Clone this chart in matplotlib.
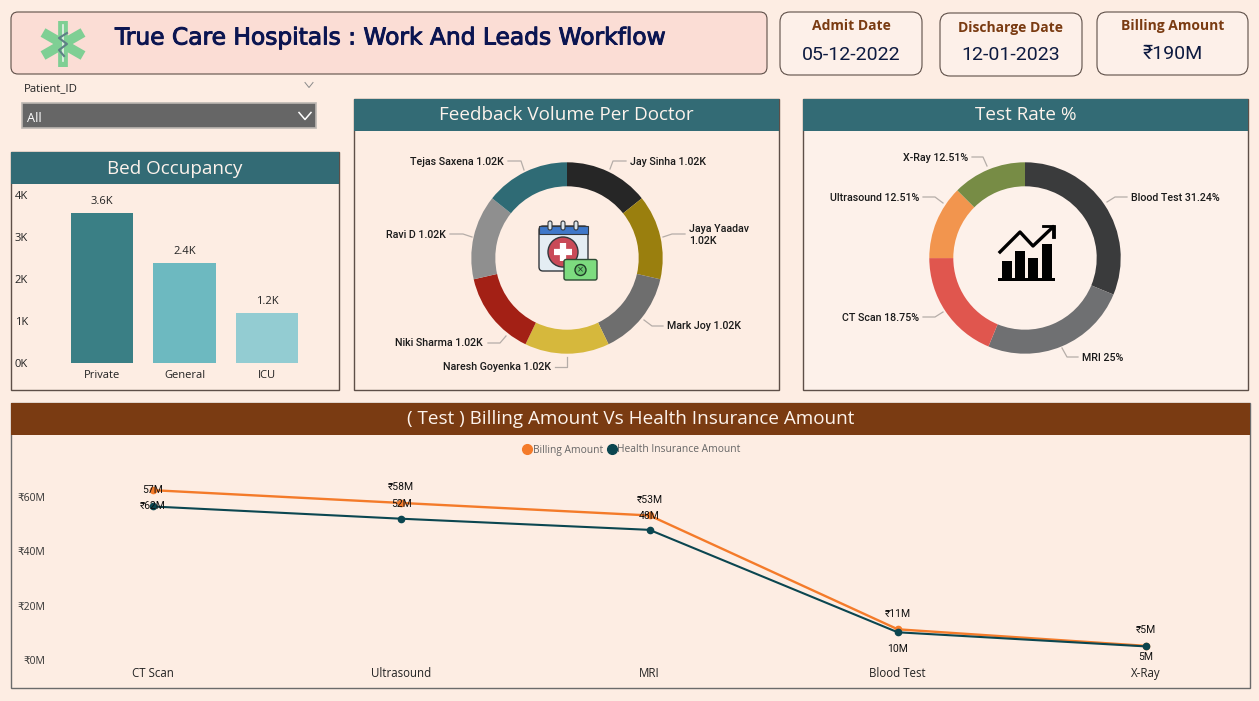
import matplotlib
matplotlib.use('Agg')
import matplotlib.pyplot as plt
import matplotlib.patheffects as pe
from matplotlib.lines import Line2D
from matplotlib.patches import Rectangle, FancyBboxPatch, Circle, Polygon

W, H = 1259, 701
BG = '#FDEDE3'
TEAL = '#336B75'
BROWN = '#7A3B12'
EDGE = '#5E4F48'
UI = ['Open Sans', 'DejaVu Sans']
DIN = ['Roboto', 'DejaVu Sans']

# data
bed_types = ['Private', 'General', 'ICU']
bed_counts = [3570, 2380, 1190]
bed_labels = ['3.6K', '2.4K', '1.2K']
bed_colors = ['#3A7F85', '#6DB9C0', '#93CCD2']
bed_ticks = [0, 1000, 2000, 3000, 4000]

doctors = ['Jay Sinha', 'Jaya Yaadav', 'Mark Joy', 'Naresh Goyenka', 'Niki Sharma', 'Ravi D', 'Tejas Saxena']
feedback = [1020, 1020, 1020, 1020, 1020, 1020, 1020]
doctor_colors = ['#262626', '#9A7F0E', '#6E6E6E', '#D6B83C', '#A32015', '#8F8F8F', '#2F6B75']

tests = ['Blood Test', 'MRI', 'CT Scan', 'Ultrasound', 'X-Ray']
test_rate = [31.24, 25, 18.75, 12.51, 12.51]
test_colors = ['#3A3B3C', '#6F7072', '#E0564E', '#F2954E', '#778C45']

line_tests = ['CT Scan', 'Ultrasound', 'MRI', 'Blood Test', 'X-Ray']
billing = [62.5, 57.8, 53.2, 11.3, 5.2]
insurance = [56.5, 52, 47.9, 10.2, 5]
billing_labels = ['₹62M', '₹58M', '₹53M', '₹11M', '₹5M']
insurance_labels = ['57M', '52M', '48M', '10M', '5M']
money_ticks = [0, 20, 40, 60]

fig = plt.figure(figsize=(W / 100, H / 100), dpi=100, facecolor=BG)

# whole page in pixel coordinates for the boxes, headers and icons
page = fig.add_axes([0, 0, 1, 1])
page.set_xlim(0, W)
page.set_ylim(H, 0)
page.axis('off')


def ax_px(x0, y0, x1, y1):
    ax = fig.add_axes([x0 / W, 1 - y1 / H, (x1 - x0) / W, (y1 - y0) / H])
    ax.patch.set_alpha(0)
    return ax


def round_box(x0, y0, x1, y1, face, r=7):
    page.add_patch(FancyBboxPatch((x0 + r, y0 + r), x1 - x0 - 2 * r, y1 - y0 - 2 * r,
                                  boxstyle='round,pad=%d,rounding_size=%d' % (r, r),
                                  fc=face, ec=EDGE, lw=0.8))


def panel(x0, y0, x1, y1, title, head=TEAL, face=BG, edge=EDGE, size=13.6):
    page.add_patch(Rectangle((x0, y0), x1 - x0, y1 - y0, fc=face, ec=edge, lw=1))
    page.add_patch(Rectangle((x0, y0), x1 - x0, 32, fc=head, ec='none'))
    page.text((x0 + x1) / 2, y0 + 16.5, title, color='#FDF3EC', fontsize=size, family=UI,
              ha='center', va='center')


def chevron(x, y, w, h, color, lw):
    page.plot([x - w, x, x + w], [y - h, y + h, y - h], color=color, lw=lw)


def leader(pts):
    page.plot([p[0] for p in pts], [p[1] for p in pts], color='#B5ADA8', lw=0.9)


# header
round_box(11, 12, 767, 74, '#FBDDD5')
title = page.text(115, 38, 'True Care Hospitals : Work And Leads Workflow', color='#0B1551',
                  fontsize=16.8, family='DejaVu Sans', va='center')
title.set_path_effects([pe.withStroke(linewidth=0.7, foreground='#0B1551')])

# star of life
for dx, dy in [(0, 23), (20, 11.5), (20, -11.5)]:
    page.plot([63 - dx, 63 + dx], [44 - dy, 44 + dy], color='#7FCF94', lw=7, solid_capstyle='butt')
page.plot([63, 63], [25, 61], color='#E8F3EA', lw=1.2)
page.add_patch(Circle((63, 26), 2, fc='none', ec='#E8F3EA', lw=1))
page.plot([67, 59, 67, 59, 64], [33, 38, 44, 50, 56], color='#5E7F86', lw=1.5)

# kpi cards
kpis = [(780, 12, 922, 75, 'Admit Date', '05-12-2022', 26, 55),
        (940, 13, 1082, 76, 'Discharge Date', '12-01-2023', 28, 55),
        (1097, 12, 1248, 75, 'Billing Amount', '₹190M', 26, 54)]
for x0, y0, x1, y1, name, val, ty, vy in kpis:
    round_box(x0, y0, x1, y1, '#FDF0E9', r=10)
    page.text((x0 + x1) / 2, ty, name, color=BROWN, fontsize=10, family=UI, weight='bold',
              ha='center', va='center')
    page.text((x0 + x1) / 2, vy, val, color='#0D1A40', fontsize=14, family=DIN,
              ha='center', va='center')

# slicer
page.text(24, 89, 'Patient_ID', color='#222222', fontsize=8.2, family=UI, va='center')
chevron(309, 85, 4, 2.5, '#8A8A8A', 0.7)
page.add_patch(Rectangle((22, 103), 294, 25, fc='#666666', ec='#BDB7B2', lw=1.2))
page.text(27, 118, 'All', color='white', fontsize=9.2, family=UI, va='center')
chevron(305, 116, 6, 3.5, 'white', 1.1)

# panels
panel(11, 152, 339, 390, 'Bed Occupancy')
panel(354, 99, 779, 390, 'Feedback Volume Per Doctor')
panel(803, 99, 1248, 390, 'Test Rate %', face='#FDF1EA')
panel(11, 403, 1250, 688, '( Test ) Billing Amount Vs Health Insurance Amount', head=BROWN,
      edge='#6B6B6B')

# bed occupancy bars
ax = ax_px(32, 190, 335, 363)
ax.bar(range(3), bed_counts, width=0.755, color=bed_colors)
ax.set_xlim((32 - 102) / 82.5, (335 - 102) / 82.5)
ax.set_ylim(0, 173 / 42 * 1000)
ax.set_xticks(range(3), bed_types, fontsize=8, family=UI, color='#222222')
ax.set_yticks(bed_ticks, ['%dK' % (t / 1000) for t in bed_ticks], fontsize=8, family=UI, color='#222222')
ax.tick_params(length=0, pad=3)
ax.tick_params(axis='x', pad=5)
for s in ax.spines.values():
    s.set_visible(False)
for i, v in enumerate(bed_counts):
    ax.annotate(bed_labels[i], (i, v), xytext=(0, 6), textcoords='offset pixels', ha='center',
                va='bottom', fontsize=8, family=UI, color='#222222')

# feedback donut
ax = ax_px(467, 158, 667, 358)
ax.pie(feedback, colors=doctor_colors, radius=95.7, startangle=90, counterclock=False,
       wedgeprops={'width': 24})
ax.set_xlim(-100, 100)
ax.set_ylim(-100, 100)

doc_spots = [(630, 162, 'left'), (689, 235, 'left'), (667, 326, 'left'), (551, 367, 'right'),
             (483, 343, 'right'), (446, 235, 'right'), (504, 162, 'right')]
for name, v, (x, y, ha) in zip(doctors, feedback, doc_spots):
    sep = '\n' if name == 'Jaya Yaadav' else ' '
    page.text(x, y, '%s%s%.2fK' % (name, sep, v / 1000), ha=ha, va='center', color='#1A1A1A',
              fontsize=7.7, family=DIN, weight=500, linespacing=1.3)
for pts in [[(610, 169), (613, 161), (626, 161)], [(663, 237), (672, 234), (685, 234)],
            [(644, 320), (652, 326), (663, 326)], [(567, 357), (567, 367), (555, 367)],
            [(506, 336), (500, 343), (488, 343)], [(472, 237), (463, 234), (450, 234)],
            [(524, 170), (521, 161), (508, 161)]]:
    leader(pts)

# calendar and banknote icon
page.add_patch(FancyBboxPatch((539, 226), 49, 45, boxstyle='round,pad=0,rounding_size=4',
                              fc='#E4EDF3', ec='#33383D', lw=1))
page.add_patch(Rectangle((539, 226), 49, 8, fc='#3F78C9', ec='#33383D', lw=0.8))
for x in [550, 563, 576]:
    page.add_patch(FancyBboxPatch((x - 2, 221), 4, 9, boxstyle='round,pad=0,rounding_size=2',
                                  fc='#DDE6EC', ec='#33383D', lw=0.8, zorder=3))
page.add_patch(Circle((563, 252), 15, fc='#C94A58', ec='#33383D', lw=1))
page.plot([563, 563], [243, 261], color='white', lw=4.5, solid_capstyle='butt')
page.plot([554, 572], [252, 252], color='white', lw=4.5, solid_capstyle='butt')
page.add_patch(FancyBboxPatch((564, 259.5), 33, 20.5, boxstyle='round,pad=0,rounding_size=2',
                              fc='#7DDC7F', ec='#2C4A33', lw=1, zorder=4))
page.add_patch(Circle((580.5, 270), 5.5, fc='#69C86E', ec='#1F3A27', lw=1, zorder=5))
page.text(580.5, 270, '×', fontsize=6, ha='center', va='center', color='#1F3A27', zorder=6)

# test rate donut
ax = ax_px(925, 158, 1125, 358)
ax.pie(test_rate, colors=test_colors, radius=95.7, startangle=90, counterclock=False,
       wedgeprops={'width': 24})
ax.set_xlim(-100, 100)
ax.set_ylim(-100, 100)

test_spots = [(1131, 198, 'left'), (1082, 358, 'left'), (919, 318, 'right'), (919, 198, 'right'),
              (968, 158, 'right')]
for name, v, (x, y, ha) in zip(tests, test_rate, test_spots):
    page.text(x, y, '%s %g%%' % (name, v), ha=ha, va='center', color='#1A1A1A', fontsize=7.7,
              family=DIN, weight=500)
for pts in [[(1107, 202), (1115, 197), (1127, 197)], [(1062, 348), (1067, 357), (1078, 357)],
            [(943, 312), (935, 317), (923, 317)], [(943, 203), (935, 197), (923, 197)],
            [(987, 166), (983, 157), (972, 157)]]:
    leader(pts)

# rising chart icon
for x0, top in [(1002, 261), (1015, 251), (1028, 258), (1042, 244)]:
    page.add_patch(Rectangle((x0, top), 10, 279 - top, fc='black', ec='none'))
page.add_patch(Rectangle((998, 278), 57, 2.6, fc='black', ec='none'))
page.plot([1000, 1020, 1033, 1053], [252, 232, 246, 227], color='black', lw=2.4)
page.add_patch(Polygon([(1042, 224.5), (1055, 224.5), (1055, 238), (1052.5, 238), (1052.5, 227), (1042, 227)],
                       fc='black', ec='black', lw=0.6))

# billing vs insurance line chart
ax = ax_px(47, 436, 1250, 660)
x = list(range(5))
ax.plot(x, billing, color='#F47B2A', lw=1.7, marker='o', ms=4.5, label='Billing Amount')
ax.plot(x, insurance, color='#0B4650', lw=1.5, marker='o', ms=4.5, label='Health Insurance Amount')
ax.set_xlim((47 - 153) / 248.25, (1250 - 153) / 248.25)
ax.set_ylim(0, 224 / 2.717)
ax.set_xticks(x, line_tests, fontsize=8.3, family=UI, color='#222222')
ax.set_yticks(money_ticks, ['₹%dM' % t for t in money_ticks], fontsize=7.5, family=UI, color='#333333')
ax.tick_params(length=0)
ax.tick_params(axis='x', pad=5)
ax.tick_params(axis='y', pad=1.5)
for s in ax.spines.values():
    s.set_visible(False)

# offsets in pixels, the labels sit right on top of each other as in the dashboard
bill_off = [-16, 16, 15, 15, 16]
ins_off = [16, 15, 14, -17, -11]
for i in x:
    ax.annotate(billing_labels[i], (i, billing[i]), xytext=(0, bill_off[i]),
                textcoords='offset pixels', ha='center', va='center', fontsize=7.5, family=DIN, color='#111111')
    ax.annotate(insurance_labels[i], (i, insurance[i]), xytext=(0, ins_off[i]),
                textcoords='offset pixels', ha='center', va='center', fontsize=7.5, family=DIN, color='#111111')

handles = [Line2D([], [], ls='none', marker='o', ms=7, color='#F47B2A'),
           Line2D([], [], ls='none', marker='o', ms=7, color='#0B4650')]
fig.legend(handles, ['Billing Amount', 'Health Insurance Amount'], ncol=2, frameon=False,
           loc='center', bbox_to_anchor=(631 / W, 1 - 450 / H), handletextpad=0, columnspacing=0.3,
           prop={'family': UI, 'size': 7.4}, labelcolor='#666666', handlelength=1.1)

fig.savefig('out.png', dpi=100, facecolor=BG)
